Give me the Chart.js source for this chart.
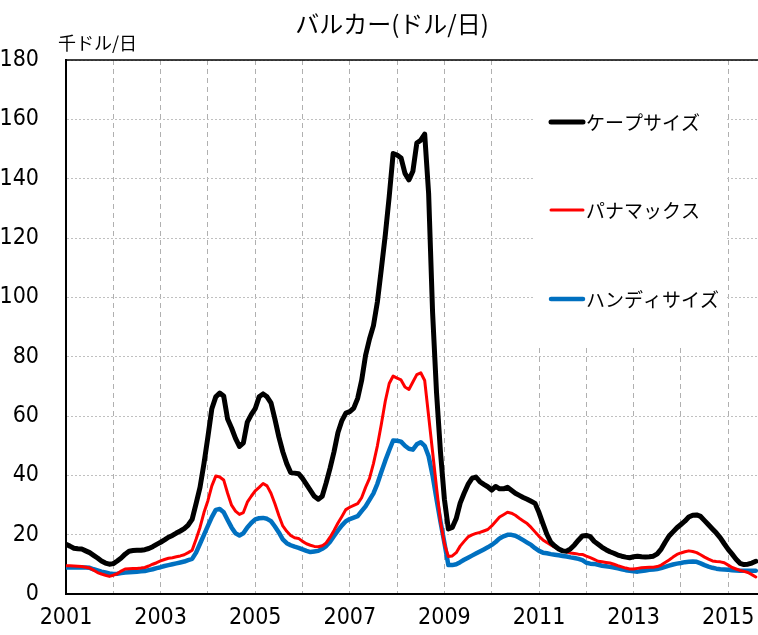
<!DOCTYPE html>
<html><head><meta charset="utf-8">
<script src="https://cdn.jsdelivr.net/npm/chart.js@4.4.1/dist/chart.umd.min.js"></script>
<style>html,body{margin:0;padding:0;background:#fff}#wrap{width:758px;height:635px;position:relative}</style>
</head><body><div id="wrap"><canvas id="c"></canvas></div>
<script>
// ---- data (monthly, Jan 2001 - Aug 2015), thousand USD/day ----
const startYear = 2001;
const cape = [
16.8,16.2,15.5,15.3,15.2,14.6,14.0,13.1,12.2,11.2,10.5,10.1,
10.3,11.2,12.2,13.5,14.5,14.7,14.8,14.8,15.0,15.4,16.0,16.8,
17.5,18.3,19.2,19.8,20.6,21.3,22.1,23.3,25.2,30.5,36.0,44.0,
53.0,62.5,66.5,67.8,66.8,59.0,56.0,52.5,49.8,51.0,58.0,60.5,
62.5,66.5,67.5,66.5,64.5,59.0,53.0,48.0,44.0,41.0,40.8,40.6,
39.0,37.0,35.0,33.0,32.0,33.0,37.5,42.5,48.0,54.5,58.5,61.0,
61.5,62.7,66.0,72.0,80.5,86.0,90.5,98.5,109.6,121.0,134.0,148.5,
148.0,147.0,141.8,139.6,142.5,152.0,153.0,155.0,135.0,95.0,68.0,48.0,
32.0,22.0,22.5,25.5,30.7,34.0,37.0,39.0,39.5,37.9,37.0,36.2,
35.1,36.3,35.5,35.5,36.0,35.0,34.0,33.3,32.6,32.0,31.3,30.6,
27.5,23.8,20.2,17.5,16.2,15.2,14.6,14.5,15.3,16.6,18.2,19.6,
19.8,19.4,17.8,16.8,15.8,15.0,14.3,13.8,13.2,12.8,12.5,12.3,
12.6,12.8,12.6,12.5,12.6,12.8,13.6,15.2,17.5,19.6,21.0,22.4,
23.5,24.6,26.0,26.6,26.7,26.2,24.8,23.4,22.0,20.6,19.0,17.0,
15.1,13.5,11.8,10.4,10.0,10.1,10.5,11.1
];
const panamax = [
9.6,9.6,9.5,9.4,9.3,9.1,8.8,8.1,7.3,6.8,6.4,6.0,
6.4,6.9,7.8,8.5,8.6,8.7,8.7,8.8,9.0,9.5,10.1,10.6,
11.2,11.7,12.1,12.3,12.6,12.9,13.3,14.0,14.8,18.5,22.5,27.5,
31.5,36.5,39.8,39.5,38.5,34.0,30.0,28.0,26.9,27.5,31.0,33.0,
34.8,36.0,37.3,36.5,34.0,30.5,26.5,23.0,21.2,19.8,19.0,18.8,
17.8,17.0,16.5,16.1,16.0,16.3,17.3,19.2,21.5,24.0,26.2,28.5,
29.3,29.9,30.5,32.5,36.0,39.0,44.0,50.0,57.3,65.0,71.0,73.5,
72.8,72.2,69.8,69.0,71.5,74.0,74.6,72.0,60.0,48.0,36.0,24.5,
17.0,12.7,12.9,14.0,16.2,17.8,19.3,20.0,20.5,20.8,21.3,21.8,
23.0,24.5,26.0,26.8,27.6,27.3,26.6,25.6,24.7,23.8,22.5,21.0,
19.5,18.3,17.4,16.6,15.8,15.2,14.7,14.3,13.9,13.7,13.5,13.4,
12.8,12.3,11.7,11.1,10.9,10.7,10.5,10.1,9.6,9.2,8.8,8.5,
8.5,8.7,8.9,9.0,9.1,9.1,9.3,9.8,10.7,11.5,12.5,13.4,
13.9,14.3,14.6,14.4,14.0,13.3,12.5,11.8,11.2,11.0,10.9,10.6,
9.8,9.0,8.5,8.0,7.7,7.3,6.6,5.8
];
const handy = [
9.0,9.0,9.0,9.0,9.0,9.0,8.9,8.4,8.0,7.6,7.3,7.0,
6.8,6.9,7.1,7.3,7.4,7.5,7.6,7.7,7.8,8.1,8.4,8.8,
9.1,9.5,9.8,10.1,10.4,10.7,11.0,11.5,11.9,14.0,17.0,20.0,
23.0,26.0,28.4,28.7,27.6,25.0,22.5,20.5,19.8,20.5,22.5,24.0,
25.2,25.6,25.7,25.4,24.6,22.8,20.8,18.5,17.2,16.5,16.0,15.6,
15.1,14.6,14.2,14.4,14.6,15.3,16.2,17.7,19.6,21.5,23.2,24.6,
25.3,25.8,26.3,28.0,29.6,31.8,34.0,37.2,41.2,45.0,48.5,51.8,
51.7,51.4,50.0,49.0,48.7,50.5,51.2,50.0,46.5,40.0,32.0,24.5,
17.3,9.8,9.8,10.1,10.8,11.6,12.3,13.0,13.7,14.4,15.1,15.8,
16.6,17.6,18.8,19.5,20.0,20.0,19.7,19.0,18.2,17.4,16.6,15.5,
14.6,14.0,13.8,13.5,13.3,13.1,12.9,12.7,12.4,12.2,11.9,11.5,
10.6,10.3,10.2,9.9,9.6,9.4,9.2,9.0,8.7,8.4,8.1,7.9,
7.7,7.6,7.8,8.0,8.2,8.3,8.5,8.8,9.2,9.6,10.0,10.3,
10.5,10.8,10.9,11.0,10.9,10.4,9.8,9.3,8.9,8.6,8.4,8.3,
8.2,8.1,8.0,7.9,7.9,7.9,7.9,7.9
];
const seriesNames = ['ケープサイズ', 'パナマックス', 'ハンディサイズ'];
const yTickValues = [0, 20, 40, 60, 80, 100, 120, 140, 160, 180];
const xLabelYears = [2001, 2003, 2005, 2007, 2009, 2011, 2013, 2015];
const titleText = 'バルカー(ドル/日)';
const unitText = '千ドル/日';

// ---- styling ----
const colors = ['#000000', '#ff0000', '#0070c0'];
const widths = [5, 3, 4.5];
const legendWidths = [5, 3, 4.5];
const NUMFONT = "'Liberation Sans Narrow', 'DejaVu Sans Condensed', 'Liberation Sans', sans-serif";
const JPFONT = "'Noto Sans CJK JP', 'Noto Sans', sans-serif";

const toXY = arr => arr.map((v, i) => ({ x: startYear + i / 12, y: v }));

const decorPlugin = {
  id: 'decor',
  beforeDatasetsDraw(chart) {
    const { ctx, chartArea } = chart;
    ctx.save();
    ctx.fillStyle = '#ffffff';
    ctx.fillRect(535, chartArea.top + 1, 192, 283);
    const ys = [122, 210, 299];
    seriesNames.forEach((name, i) => {
      ctx.strokeStyle = colors[i];
      ctx.lineWidth = legendWidths[i];
      ctx.lineCap = 'round';
      ctx.beginPath();
      ctx.moveTo(551, ys[i]);
      ctx.lineTo(583, ys[i]);
      ctx.stroke();
      ctx.fillStyle = '#000';
      ctx.font = "19px " + JPFONT;
      ctx.textAlign = 'left';
      ctx.textBaseline = 'middle';
      ctx.fillText(name, 586, ys[i] + 1);
    });
    ctx.restore();
  },
  afterDraw(chart) {
    const { ctx, chartArea } = chart;
    ctx.save();
    ctx.strokeStyle = '#000';
    ctx.lineWidth = 1.5;
    ctx.beginPath();
    ctx.moveTo(chartArea.left, chartArea.top);
    ctx.lineTo(chartArea.right, chartArea.top);
    ctx.stroke();
    ctx.fillStyle = '#000';
    ctx.textBaseline = 'middle';
    ctx.font = "24px " + JPFONT;
    ctx.textAlign = 'center';
    ctx.fillText(titleText, 392, 24);
    ctx.font = "18px " + JPFONT;
    ctx.textAlign = 'left';
    ctx.fillText(unitText, 58, 43);
    ctx.restore();
  }
};

new Chart(document.getElementById('c'), {
  type: 'line',
  data: {
    datasets: [cape, panamax, handy].map((arr, i) => ({
      label: seriesNames[i],
      data: toXY(arr),
      borderColor: colors[i],
      backgroundColor: colors[i],
      borderWidth: widths[i],
      pointRadius: 0,
      tension: 0,
      borderJoinStyle: 'round',
      borderCapStyle: 'round',
      order: i + 1
    }))
  },
  options: {
    responsive: true,
    maintainAspectRatio: false,
    animation: false,
    events: [],
    layout: { padding: { top: 60, left: 0, right: 0, bottom: 0 } },
    plugins: { legend: { display: false }, title: { display: false }, tooltip: { enabled: false } },
    scales: {
      x: {
        type: 'linear',
        min: 2001,
        max: 2015.63,
        afterBuildTicks(axis) {
          axis.ticks = [];
          for (let y = 2001; y <= 2015; y++) axis.ticks.push({ value: y });
        },
        afterFit(axis) { axis.height = 36; axis.paddingRight = 0; axis.paddingLeft = 0; },
        ticks: {
          stepSize: 1,
          autoSkip: false,
          maxRotation: 0,
          padding: 10,
          color: '#000',
          font: { family: NUMFONT, size: 23 },
          callback: v => xLabelYears.includes(v) ? String(v) : ''
        },
        grid: {
          color: '#b0b0b0',
          lineWidth: 1,
          drawTicks: false,
          tickLength: 0
        },
        border: { display: true, color: '#000', width: 2, dash: [5, 4] }
      },
      y: {
        min: 0,
        max: 180,
        afterBuildTicks(axis) { axis.ticks = yTickValues.map(v => ({ value: v })); },
        afterFit(axis) { axis.width = 66; },
        ticks: {
          padding: 27,
          color: '#000',
          font: { family: NUMFONT, size: 23 }
        },
        grid: {
          color: '#c0c0c0',
          lineWidth: 1,
          drawTicks: false,
          tickLength: 0
        },
        border: { display: true, color: '#000', width: 2, dash: [2, 2] }
      }
    }
  },
  plugins: [decorPlugin]
});
</script>
</body></html>
